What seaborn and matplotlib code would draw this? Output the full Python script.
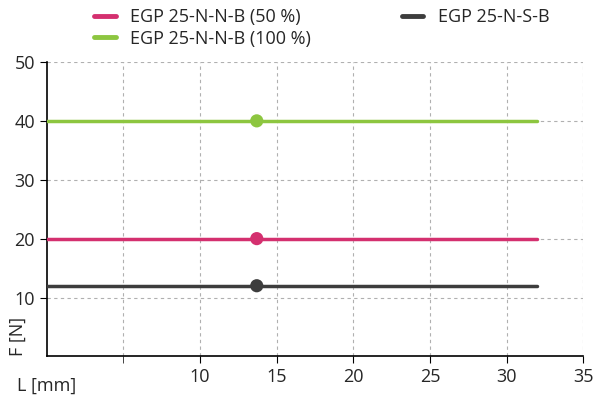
import matplotlib
matplotlib.use("Agg")
import matplotlib.pyplot as plt
import seaborn as sns
import pandas as pd

# series: (label, force, colour)
labels = ["EGP 25-N-N-B (50 %)", "EGP 25-N-S-B", "EGP 25-N-N-B (100 %)"]
forces = [20, 12, 40]
colors = ["#d4306f", "#3d3d3d", "#8dc640"]
stroke_start = 0
stroke_end = 32
marker_x = 13.7

x_ticks = [10, 15, 20, 25, 30, 35]
y_ticks = [10, 20, 30, 40, 50]

sns.set_style("white")
plt.rcParams['font.family'] = ['Open Sans', 'DejaVu Sans']

fig, ax = plt.subplots(figsize=(6, 4.05), dpi=100)
fig.subplots_adjust(left=0.078, right=0.972, top=0.847, bottom=0.12)

rows = []
for lab, f in zip(labels, forces):
    rows.append({"L": stroke_start, "F": f, "s": lab})
    rows.append({"L": stroke_end, "F": f, "s": lab})
df = pd.DataFrame(rows)

sns.lineplot(data=df, x="L", y="F", hue="s", palette=colors, hue_order=labels,
             linewidth=2.5, ax=ax, legend=False, zorder=3)
pts = pd.DataFrame({"L": [marker_x] * 3, "F": forces, "s": labels})
sns.scatterplot(data=pts, x="L", y="F", hue="s", palette=colors, hue_order=labels,
                s=90, edgecolor="none", ax=ax, legend=False, zorder=4)

ax.set_xlim(0, 35)
ax.set_ylim(0, 50)
ax.set_xticks(x_ticks)
ax.set_yticks(y_ticks)
ax.set_xticks([5], minor=True)
ax.grid(True, which="both", linestyle=(0, (3, 3)), color="#b0b0b0", linewidth=0.8)
ax.set_axisbelow(True)
for s in ["top", "right"]:
    ax.spines[s].set_visible(False)
for s in ["left", "bottom"]:
    ax.spines[s].set_color("black")
    ax.spines[s].set_linewidth(1.2)
ax.tick_params(axis="both", labelsize=13, length=5, color="black", direction="out",
               left=True, bottom=True)
ax.tick_params(axis="x", which="minor", length=5, bottom=True)
ax.set_xlabel("")
ax.set_ylabel("")
ax.text(0, -0.07, "L [mm]", transform=ax.transAxes, ha="center", va="top", fontsize=13)
ax.text(-0.055, 0.0, "F [N]", transform=ax.transAxes, ha="center", va="bottom",
        rotation=90, fontsize=13)

handles = [plt.Line2D([], [], color=c, linewidth=3.5) for c in colors]
fig.legend([handles[0], handles[2], handles[1]], [labels[0], labels[2], labels[1]],
           ncol=2, loc="upper left", bbox_to_anchor=(0.13, 1.02), frameon=False,
           fontsize=13, handlelength=1.2, columnspacing=5.0, labelspacing=0.2)

fig.savefig("out.png", dpi=100)
